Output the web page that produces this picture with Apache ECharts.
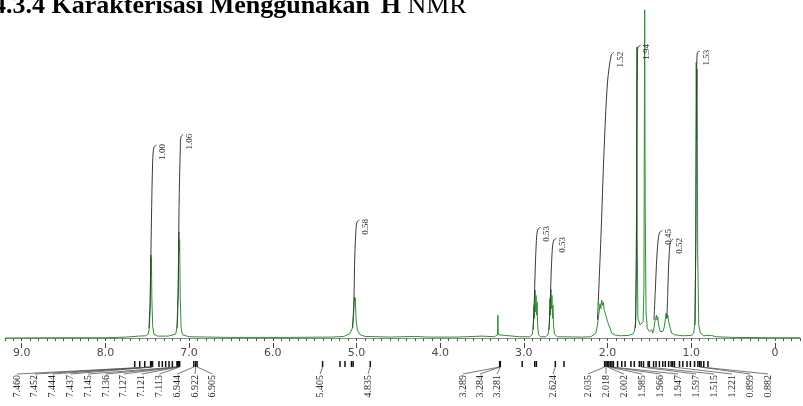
<!DOCTYPE html>
<html>
<head>
<meta charset="utf-8">
<script src="https://cdn.jsdelivr.net/npm/echarts@6/dist/echarts.min.js"></script>
<style>
html, body { margin: 0; padding: 0; background: #fff; }
#chart { width: 803px; height: 406px; }
</style>
</head>
<body>
<div id="chart"></div>
<script>
// 1H NMR spectrum: chemical shift (ppm) vs. relative intensity (tallest line = 100)
const spectrum = [
  [9.20, 0.0], [8.60, 0.1], [8.00, 0.1], [7.75, 0.3], [7.60, 0.6], [7.52, 0.7], [7.49, 1.2],
  [7.475, 3.0], [7.465, 9.0], [7.460, 24.0], [7.457, 25.3], [7.453, 19.0], [7.450, 24.5],
  [7.445, 12.0], [7.435, 3.5], [7.420, 1.2], [7.38, 0.6], [7.25, 0.6], [7.16, 1.2],
  [7.140, 4.0], [7.130, 14.0], [7.125, 31.0], [7.121, 32.3], [7.117, 26.0], [7.113, 30.0],
  [7.106, 12.0], [7.095, 3.0], [7.08, 1.0], [7.00, 0.4], [6.50, 0.2], [5.80, 0.2], [5.30, 0.3],
  [5.15, 0.5], [5.08, 1.3], [5.05, 3.0], [5.035, 7.0], [5.025, 12.5], [5.020, 11.0],
  [5.015, 12.3], [5.005, 6.0], [4.99, 2.5], [4.96, 1.1], [4.90, 0.5], [4.60, 0.3],
  [4.30, 0.5], [4.15, 0.3], [3.80, 0.3], [3.50, 0.6], [3.35, 0.4], [3.315, 1.0],
  [3.310, 7.0], [3.305, 1.0], [3.29, 0.4], [3.05, 0.4], [2.93, 0.4], [2.90, 1.0],
  [2.885, 4.0], [2.878, 10.0], [2.872, 6.0], [2.866, 14.6], [2.860, 8.0], [2.854, 13.0],
  [2.848, 7.0], [2.842, 11.0], [2.835, 4.0], [2.825, 1.0], [2.80, 0.4], [2.74, 0.4],
  [2.71, 1.0], [2.695, 4.0], [2.688, 12.0], [2.682, 7.0], [2.676, 14.9], [2.670, 9.0],
  [2.664, 13.0], [2.658, 6.0], [2.652, 10.0], [2.645, 4.0], [2.635, 1.2], [2.60, 0.4],
  [2.30, 0.3], [2.20, 0.4], [2.14, 1.5], [2.12, 4.0], [2.10, 8.0], [2.09, 10.5],
  [2.08, 9.0], [2.07, 11.6], [2.06, 10.0], [2.05, 11.0], [2.04, 8.5], [2.03, 9.0],
  [2.02, 7.0], [2.01, 7.5], [2.00, 5.0], [1.99, 5.5], [1.97, 3.0], [1.95, 1.5],
  [1.92, 1.0], [1.85, 0.7], [1.75, 0.8], [1.70, 1.2], [1.68, 2.0], [1.665, 5.0],
  [1.655, 20.0], [1.650, 88.7], [1.645, 30.0], [1.637, 6.0], [1.61, 4.0], [1.59, 3.5],
  [1.575, 5.0], [1.565, 15.0], [1.556, 100.0], [1.550, 40.0], [1.540, 8.0], [1.525, 3.0],
  [1.50, 2.0], [1.47, 2.5], [1.46, 1.5], [1.445, 3.0], [1.435, 5.0], [1.425, 6.0],
  [1.415, 7.0], [1.408, 5.5], [1.400, 6.5], [1.390, 4.0], [1.380, 4.5], [1.370, 2.0],
  [1.355, 1.5], [1.340, 2.0], [1.325, 3.0], [1.310, 5.5], [1.300, 7.6], [1.290, 6.0],
  [1.280, 7.0], [1.270, 5.0], [1.260, 5.5], [1.250, 3.0], [1.235, 1.5], [1.20, 1.0],
  [1.10, 0.7], [1.00, 0.8], [0.97, 1.5], [0.955, 5.0], [0.945, 30.0], [0.940, 84.0],
  [0.935, 60.0], [0.930, 82.0], [0.922, 25.0], [0.910, 4.0], [0.89, 1.5], [0.85, 0.7],
  [0.79, 0.8], [0.775, 1.4], [0.76, 0.8], [0.70, 0.4], [0.50, 0.2], [0.00, 0.1], [-0.30, 0.1]
];

// integration values printed beside each integral trace
const integralValues = ['1.00', '1.06', '0.58', '0.53', '0.53', '1.52', '1.94', '0.45', '0.52', '1.53'];

// integral traces, [ppm, height] from start of the region to its end
const integralTraces = [
  [[7.48, 3.0], [7.465, 12.0], [7.45, 36.0], [7.435, 54.0], [7.42, 58.2], [7.39, 58.8]],
  [[7.145, 3.0], [7.13, 16.0], [7.12, 40.0], [7.105, 58.0], [7.097, 61.3], [7.07, 62.0]],
  [[5.045, 3.0], [5.03, 12.0], [5.02, 25.0], [5.005, 33.5], [4.993, 35.4], [4.965, 36.0]],
  [[2.89, 2.5], [2.875, 12.0], [2.86, 24.0], [2.845, 31.5], [2.830, 33.2], [2.80, 33.8]],
  [[2.70, 2.5], [2.685, 11.0], [2.67, 22.0], [2.655, 28.5], [2.639, 29.9], [2.61, 30.4]],
  [[2.12, 5.5], [2.08, 30.0], [2.04, 58.0], [2.00, 78.0], [1.955, 86.3], [1.925, 87.0]],
  [[1.665, 3.0], [1.655, 30.0], [1.648, 70.0], [1.642, 86.0], [1.635, 88.7], [1.605, 89.2]],
  [[1.445, 5.5], [1.43, 14.0], [1.41, 25.0], [1.39, 31.0], [1.373, 32.3], [1.345, 32.8]],
  [[1.29, 6.0], [1.28, 14.0], [1.27, 22.0], [1.255, 28.5], [1.242, 29.6], [1.215, 30.1]],
  [[0.955, 4.0], [0.945, 30.0], [0.94, 60.0], [0.935, 80.0], [0.928, 86.9], [0.90, 87.4]]
];

// picked peaks with printed chemical shifts
const peakLabels = ['7.460', '7.452', '7.444', '7.437', '7.145', '7.136', '7.127', '7.121',
  '7.113', '6.944', '6.922', '6.905', '5.405', '4.835', '3.289', '3.284', '3.281', '2.624',
  '2.035', '2.018', '2.002', '1.985', '1.966', '1.947', '1.597', '1.515', '1.221', '0.899', '0.882'];

// picked peaks drawn as markers only
const extraPicks = [7.65, 7.59, 7.53, 7.36, 7.32, 7.28, 7.24, 7.20, 5.197, 5.137, 5.06, 5.04,
  3.02, 2.87, 2.85, 2.52, 1.93, 1.88, 1.83, 1.79, 1.72, 1.68, 1.62, 1.57, 1.50, 1.45,
  1.42, 1.38, 1.34, 1.31, 1.27, 1.24, 1.20, 1.14, 1.10, 1.05, 1.01, 0.96, 0.92, 0.85, 0.80];

// chemical-shift axis labels
const shiftTicks = [9, 8, 7, 6, 5, 4, 3, 2, 1, 0];

// ---- layout ----
const PLOT_BASE_Y = 343;          // pixel row of the shift axis line
const MARK_TOP = 361, MARK_BOTTOM = 367, LABEL_TOP = 374;

// horizontal slots of the printed shift labels, grouped as they are spread out
function labelSlots() {
  const slots = [];
  for (let i = 0; i < 12; i++) slots.push(17 + i * 17.8);
  slots.push(320, 368);
  for (let i = 0; i < 3; i++) slots.push(463 + i * 17);
  slots.push(553);
  for (let i = 0; i < 11; i++) slots.push(588 + i * 18);
  return slots;
}
const slots = labelSlots();

const chart = echarts.init(document.getElementById('chart'), null, { renderer: 'canvas' });

const GREEN = '#2f8f2f';
const INK = '#2a2a2a';

const integralSeries = integralTraces.map(function (trace) {
  return {
    type: 'line', xAxisIndex: 0, yAxisIndex: 0, data: trace, showSymbol: false,
    smooth: 0.3, silent: true, z: 4,
    lineStyle: { color: '#3a3a3a', width: 1 }
  };
});

const option = {
  animation: false,
  backgroundColor: '#ffffff',
  grid: { left: 5, right: 3, top: 0, bottom: 406 - PLOT_BASE_Y, containLabel: false },
  xAxis: [
    {
      type: 'value', inverse: true, min: -0.3, max: 9.2, interval: 0.1,
      axisLine: { show: true, lineStyle: { color: '#8a8a8a', width: 1 } },
      axisTick: { show: true, length: 3, lineStyle: { color: '#555', width: 1 } },
      splitLine: { show: false },
      axisLabel: {
        show: true, customValues: shiftTicks, margin: 5,
        color: '#4a4a4a', fontSize: 11, fontFamily: 'DejaVu Sans',
        formatter: function (v) { return v === 0 ? '0' : v.toFixed(1); }
      }
    },
    {
      type: 'value', inverse: true, min: -0.3, max: 9.2, position: 'bottom',
      axisLine: { show: false },
      axisTick: { show: true, customValues: shiftTicks, length: 5, lineStyle: { color: '#444', width: 1 } },
      axisLabel: { show: false }, splitLine: { show: false }
    }
  ],
  yAxis: { type: 'value', min: -1.5, max: 103, show: false },
  graphic: [
    {
      type: 'text', left: -7, top: -7, z: 10,
      style: {
        text: '{b|4.3.4 Karakterisasi Menggunakan }{s|¹}{b|H }{n|NMR}',
        rich: {
          b: { fontFamily: 'Liberation Serif', fontWeight: 'bold', fontSize: 26, fill: '#000' },
          s: { fontFamily: 'Liberation Serif', fontWeight: 'bold', fontSize: 14, fill: '#000', verticalAlign: 'top' },
          n: { fontFamily: 'Liberation Serif', fontWeight: 'normal', fontSize: 26, fill: '#000' }
        }
      }
    }
  ],
  series: [
    {
      type: 'line', name: '1H', data: spectrum, showSymbol: false, silent: true, z: 3,
      lineStyle: { color: GREEN, width: 1 }
    }
  ].concat(integralSeries).concat([
    {
      // integration values, rotated beside the top of each trace
      type: 'custom', silent: true, z: 5, clip: false,
      data: integralTraces.map(function (t, i) { return [t[t.length - 2][0], t[t.length - 2][1], i]; }),
      renderItem: function (params, api) {
        const p = api.coord([api.value(0), api.value(1)]);
        return {
          type: 'text', x: p[0] + 9, y: p[1] - 3, rotation: Math.PI / 2,
          style: {
            text: integralValues[api.value(2)], fill: INK,
            font: '9px "Liberation Serif"', align: 'right', verticalAlign: 'middle'
          }
        };
      }
    },
    {
      // peak-pick markers, connectors and printed shifts below the axis
      type: 'custom', silent: true, z: 5, clip: false,
      data: peakLabels.map(function (s, i) { return [parseFloat(s), i]; })
        .concat(extraPicks.map(function (v) { return [v, -1]; })),
      renderItem: function (params, api) {
        const x = api.coord([api.value(0), 0])[0];
        const idx = api.value(1);
        const children = [{
          type: 'rect', shape: { x: x - 0.75, y: MARK_TOP, width: 1.5, height: MARK_BOTTOM - MARK_TOP },
          style: { fill: '#111' }
        }];
        if (idx >= 0) {
          const sx = slots[idx];
          children.push({
            type: 'line', shape: { x1: x, y1: MARK_BOTTOM, x2: sx, y2: LABEL_TOP },
            style: { stroke: '#555', lineWidth: 0.8 }
          });
          children.push({
            type: 'text', x: sx, y: LABEL_TOP + 1, rotation: Math.PI / 2,
            style: {
              text: peakLabels[idx], fill: INK, font: '10px "Liberation Serif"',
              align: 'right', verticalAlign: 'middle'
            }
          });
        }
        return { type: 'group', children: children };
      }
    }
  ])
};

chart.setOption(option);
</script>
</body>
</html>
